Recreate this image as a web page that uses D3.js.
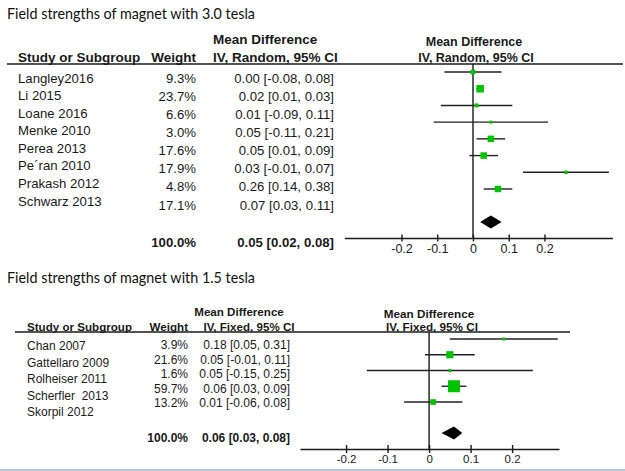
<!DOCTYPE html>
<html><head><meta charset="utf-8">
<script src="https://cdn.jsdelivr.net/npm/d3@7"></script>
<style>
html,body{margin:0;padding:0;background:#fff;}
svg{display:block;}
text{font-family:"Liberation Sans",Arial,sans-serif;fill:#1a1a1a;white-space:pre;}
.title{font-family:Lato,"Open Sans",sans-serif;fill:#111;}
.b{font-weight:bold;}
</style></head>
<body>
<script>
// ---------- data ----------
const tickValues = [-0.2, -0.1, 0, 0.1, 0.2];
const tickLabels = ["-0.2", "-0.1", "0", "0.1", "0.2"];

const topTitle = "Field strengths of magnet with 3.0 tesla";
const topStudies = ["Langley2016", "Li 2015", "Loane 2016", "Menke 2010", "Perea 2013", "Pe\u00b4ran 2010", "Prakash 2012", "Schwarz 2013"];
const topWeights = [9.3, 23.7, 6.6, 3.0, 17.6, 17.9, 4.8, 17.1];
const topMD = [0.00, 0.02, 0.01, 0.05, 0.05, 0.03, 0.26, 0.07];
const topLo = [-0.08, 0.01, -0.09, -0.11, 0.01, -0.01, 0.14, 0.03];
const topHi = [0.08, 0.03, 0.11, 0.21, 0.09, 0.07, 0.38, 0.11];
const topTotal = [100.0, 0.05, 0.02, 0.08]; // weight, md, lo, hi

const botTitle = "Field strengths of magnet with 1.5 tesla";
const botStudies = ["Chan 2007", "Gattellaro 2009", "Rolheiser 2011", "Scherfler  2013", "Skorpil 2012"];
const botWeights = [3.9, 21.6, 1.6, 59.7, 13.2];
const botMD = [0.18, 0.05, 0.05, 0.06, 0.01];
const botLo = [0.05, -0.01, -0.15, 0.03, -0.06];
const botHi = [0.31, 0.11, 0.25, 0.09, 0.08];
const botTotal = [100.0, 0.06, 0.03, 0.08];

// ---------- chart ----------
const W = 625, H = 471;
const svg = d3.select("body").append("svg").attr("width", W).attr("height", H);
svg.append("rect").attr("width", W).attr("height", H).attr("fill", "#fff");
svg.append("rect").attr("x", 0).attr("y", 469).attr("width", W).attr("height", 2).attr("fill", "#b7c4d4");

const fmtW = d => d3.format(".1f")(d) + "%";
const fmtCI = (m, l, h) => m.toFixed(2) + " [" + l.toFixed(2) + ", " + h.toFixed(2) + "]";
const green = "#00c400";

function panel(cfg) {
  const g = svg.append("g");
  const n = cfg.studies.length;
  const idx = d3.range(n);

  // title
  g.append("text").attr("class", "title").attr("x", 7).attr("y", cfg.titleY)
    .attr("font-size", 16).attr("textLength", 248).attr("lengthAdjust", "spacingAndGlyphs")
    .text(cfg.title);

  // headers
  const hs = cfg.hdrSize;
  g.append("text").attr("class", "b").attr("x", cfg.nameX).attr("y", cfg.hdrY2)
    .attr("font-size", hs.left).text("Study or Subgroup");
  g.append("text").attr("class", "b").attr("x", cfg.weightX).attr("y", cfg.hdrY2)
    .attr("text-anchor", "end").attr("font-size", hs.left).text("Weight");
  g.append("text").attr("class", "b").attr("x", cfg.ciHdrX).attr("y", cfg.hdrY1)
    .attr("text-anchor", cfg.ciHdrAnchor).attr("font-size", hs.left).text("Mean Difference");
  g.append("text").attr("class", "b").attr("x", cfg.ciHdrX2).attr("y", cfg.hdrY2)
    .attr("text-anchor", cfg.ciHdrAnchor).attr("font-size", hs.left).text(cfg.method);
  g.append("text").attr("class", "b").attr("x", cfg.plotHdrX).attr("y", cfg.hdrY1 + 2)
    .attr("text-anchor", "middle").attr("font-size", hs.right).text("Mean Difference");
  g.append("text").attr("class", "b").attr("x", cfg.plotHdrX2).attr("y", cfg.hdrY2)
    .attr("text-anchor", "middle").attr("font-size", hs.right).text(cfg.method);

  g.append("line").attr("x1", cfg.lineX[0]).attr("x2", cfg.lineX[1])
    .attr("y1", cfg.hdrLineY).attr("y2", cfg.hdrLineY)
    .attr("stroke", "#1a1a1a").attr("stroke-width", 1.5);

  // row scales
  const yName = d3.scaleLinear().domain([0, n - 1]).range(cfg.nameRange);
  const yCol = d3.scaleLinear().domain([0, n - 1]).range(cfg.colRange);
  const yMark = d3.scaleLinear().domain([0, n - 1]).range(cfg.markRange);

  const fs = cfg.rowSize;
  g.selectAll(".nm").data(idx).join("text").attr("x", cfg.nameX + 0)
    .attr("y", i => yName(i)).attr("dy", "0.35em").attr("font-size", fs)
    .text(i => cfg.studies[i]);
  g.selectAll(".wt").data(idx).join("text").attr("x", cfg.weightX)
    .attr("y", i => yCol(i)).attr("dy", "0.35em").attr("text-anchor", "end").attr("font-size", fs)
    .text(i => fmtW(cfg.weights[i]));
  g.selectAll(".ci").data(idx).join("text").attr("x", cfg.ciX)
    .attr("y", i => yCol(i)).attr("dy", "0.35em").attr("text-anchor", "end").attr("font-size", fs)
    .text(i => fmtCI(cfg.md[i], cfg.lo[i], cfg.hi[i]));

  // totals
  const t = cfg.total;
  g.append("text").attr("class", "b").attr("x", cfg.weightX).attr("y", cfg.totalY).attr("dy", "0.35em")
    .attr("text-anchor", "end").attr("font-size", fs).text(fmtW(t[0]));
  g.append("text").attr("class", "b").attr("x", cfg.ciX).attr("y", cfg.totalY).attr("dy", "0.35em")
    .attr("text-anchor", "end").attr("font-size", fs).text(fmtCI(t[1], t[2], t[3]));

  // plot
  const x = d3.scaleLinear().domain(cfg.xDomain).range(cfg.xRange);
  const size = d3.scaleSqrt().domain([0, 60]).range([0, 12]);

  g.append("line").attr("x1", x(0)).attr("x2", x(0))
    .attr("y1", cfg.hdrLineY).attr("y2", cfg.axisY)
    .attr("stroke", "#1a1a1a").attr("stroke-width", 1.4);

  g.selectAll(".cil").data(idx).join("line")
    .attr("x1", i => x(cfg.lo[i])).attr("x2", i => x(cfg.hi[i]))
    .attr("y1", i => yMark(i)).attr("y2", i => yMark(i))
    .attr("stroke", "#222").attr("stroke-width", 1.4);
  g.selectAll(".sq").data(idx).join("rect")
    .attr("x", i => x(cfg.md[i]) - Math.max(3, size(cfg.weights[i])) / 2)
    .attr("y", i => yMark(i) - Math.max(3, size(cfg.weights[i])) / 2)
    .attr("width", i => Math.max(3, size(cfg.weights[i])))
    .attr("height", i => Math.max(3, size(cfg.weights[i])))
    .attr("fill", green);

  const dy = cfg.totalMarkY, hh = 6.5;
  g.append("path")
    .attr("d", `M${x(t[2])},${dy} L${x(t[1])},${dy - hh} L${x(t[3])},${dy} L${x(t[1])},${dy + hh} Z`)
    .attr("fill", "#000");

  const ax = g.append("g").attr("transform", `translate(0,${cfg.axisY})`)
    .call(d3.axisBottom(x).tickValues(tickValues).tickFormat((d, i) => tickLabels[i])
      .tickSizeOuter(0).tickSizeInner(cfg.tick).tickPadding(cfg.tickPad));
  ax.select(".domain").attr("stroke", "#1a1a1a").attr("stroke-width", 1.6);
  ax.selectAll(".tick line").attr("y1", -cfg.tick).attr("y2", cfg.tick)
    .attr("stroke", "#1a1a1a").attr("stroke-width", 1.4);
  ax.selectAll(".tick text").attr("font-size", cfg.tickSize).attr("fill", "#1a1a1a")
    .attr("font-family", '"Liberation Sans",Arial,sans-serif');
}

panel({
  title: topTitle, titleY: 19, method: "IV, Random, 95% CI",
  studies: topStudies, weights: topWeights, md: topMD, lo: topLo, hi: topHi, total: topTotal,
  hdrSize: { left: 13.5, right: 12.5 }, hdrY1: 44, hdrY2: 62,
  nameX: 18, weightX: 196, ciX: 334, ciHdrX: 213, ciHdrX2: 213, ciHdrAnchor: "start",
  plotHdrX: 474, plotHdrX2: 476,
  lineX: [7, 623], hdrLineY: 64,
  nameRange: [78, 201], colRange: [78, 205], markRange: [72, 189],
  rowSize: 13.2, totalY: 242, totalMarkY: 222,
  xDomain: [-0.36, 0.39], xRange: [344.3, 612.4],
  axisY: 238, tick: 3.5, tickPad: 3, tickSize: 12.5
});

panel({
  title: botTitle, titleY: 283, method: "IV, Fixed, 95% CI",
  studies: botStudies, weights: botWeights, md: botMD, lo: botLo, hi: botHi, total: botTotal,
  hdrSize: { left: 11.6, right: 11.7 }, hdrY1: 316, hdrY2: 331,
  nameX: 27, weightX: 188, ciX: 290, ciHdrX: 239, ciHdrX2: 249, ciHdrAnchor: "middle",
  plotHdrX: 429, plotHdrX2: 432,
  lineX: [15, 570], hdrLineY: 332,
  nameRange: [346, 412], colRange: [345, 403], markRange: [339, 402],
  rowSize: 12, totalY: 438, totalMarkY: 433,
  xDomain: [-0.311, 0.313], xRange: [300, 559],
  axisY: 449, tick: 4, tickPad: 2, tickSize: 11.5
});
</script>
</body></html>
